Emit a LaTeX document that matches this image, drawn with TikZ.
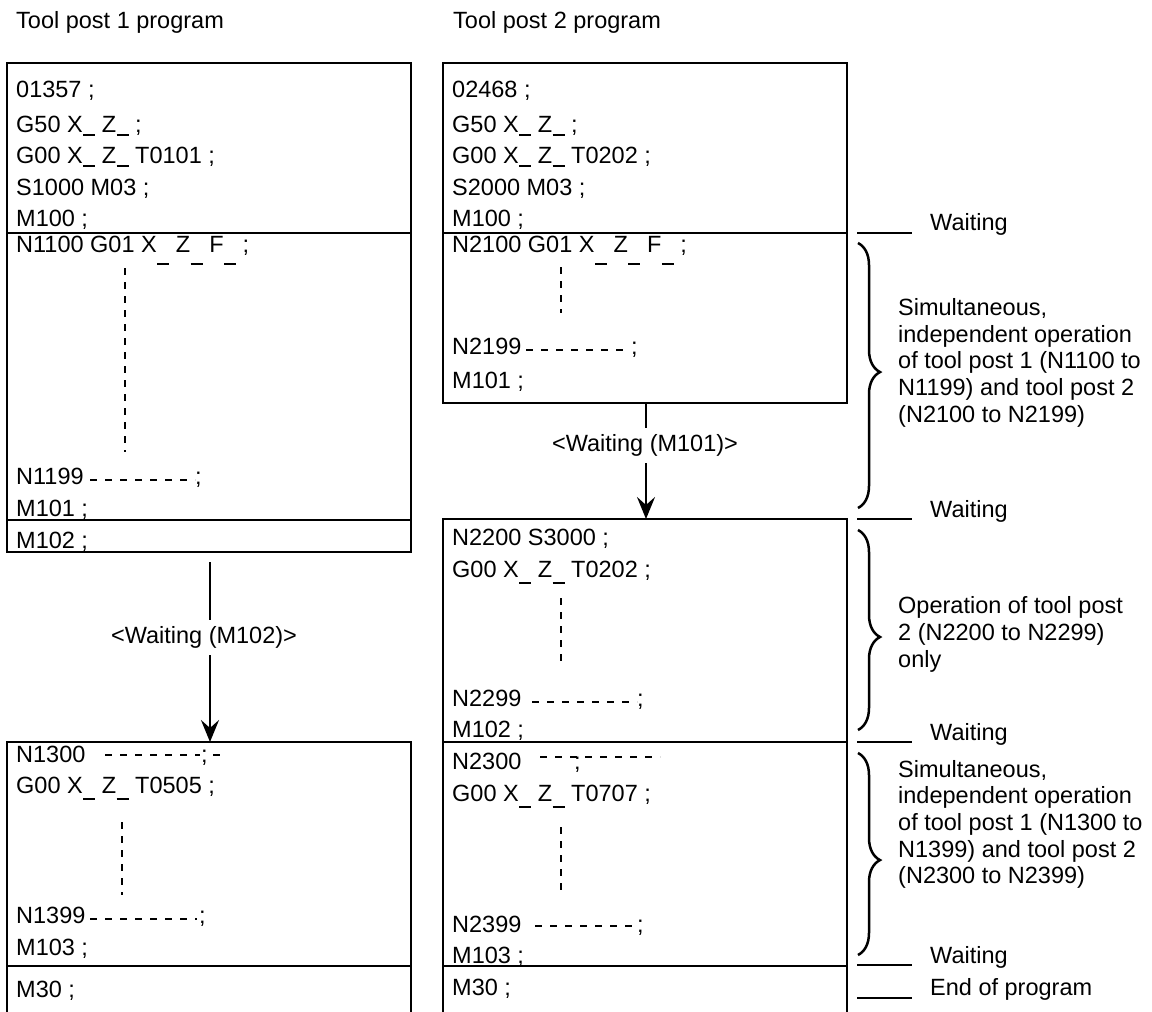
\documentclass[tikz,border=0pt]{standalone}
\usepackage{fontspec}
\setmainfont{Liberation Sans}
\usetikzlibrary{arrows.meta,decorations.pathreplacing}
\newcommand\blk[1]{\kern0.5pt\rule[-#1pt]{12pt}{2.4pt}}
\begin{document}
\begin{tikzpicture}[x=1pt,y=-1pt,
  txt/.style={anchor=base west, inner sep=0pt, font=\fontsize{23.5}{28}\selectfont},
  lbl/.style={inner sep=0pt, font=\fontsize{23.5}{28}\selectfont},
  box/.style={line width=2.5pt},
  dsh/.style={line width=2.4pt, dash pattern=on 7pt off 8pt},
  vdsh/.style={line width=2.6pt, dash pattern=on 7pt off 7pt},
  arr/.style={line width=2.5pt,-{Stealth[length=22pt,width=18pt,inset=8pt]}},
  tick/.style={line width=2.5pt},
  brc/.style={decorate, decoration={brace, amplitude=22pt, aspect=#1}, line width=2.5pt}]
\useasboundingbox (0,0) rectangle (1152,1012);

% headings
\node[txt] (h1) at (16,28) {Tool post 1 program};
\node[txt] (h2) at (453,28) {Tool post 2 program};

% ---------- left column boxes
\draw[box] (7,63) rectangle (411,552);
\draw[box] (7,233) -- (411,233);
\draw[box] (7,520) -- (411,520);
\draw[box] (7,1012) -- (7,742) -- (411,742) -- (411,1012);
\draw[box] (7,966) -- (411,966);

% left texts
\node[txt] (l1) at (16,97) {01357 ;};
\node[txt] (l2) at (16,132) {G50 X\blk{4} Z\blk{4} ;};
\node[txt] (l3) at (16,163) {G00 X\blk{4} Z\blk{4} T0101 ;};
\node[txt] (l4) at (16,195) {S1000 M03 ;};
\node[txt] (l5) at (16,226) {M100 ;};
\node[txt] (l6) at (16,252) {N1100 G01 X\blk{13} Z\blk{13} F\blk{13} ;};
\draw[vdsh] (125,268) -- (125,452);
\node[txt] (l7) at (16,484) {N1199};
\draw[dsh] (90,480) -- (195,480);
\node[txt] (l7s) at (195,484) {;};
\node[txt] (l8) at (16,516) {M101 ;};
\node[txt] (l9) at (16,548) {M102 ;};

\node[txt] (l10) at (16,762) {N1300};
\draw[dsh] (105,755) -- (200,755);
\node[txt] (l10s) at (201,762) {;};
\draw[dsh] (213,755) -- (220,755);
\node[txt] (l11) at (16,793) {G00 X\blk{7} Z\blk{7} T0505 ;};
\draw[vdsh] (122,822) -- (122,895);
\node[txt] (l12) at (16,923) {N1399};
\draw[dsh] (90,919) -- (197,919);
\node[txt] (l12s) at (199,923) {;};
\node[txt] (l13) at (16,955) {M103 ;};
\node[txt] (l14) at (16,997) {M30 ;};

% ---------- right column boxes
\draw[box] (443,63) rectangle (847,403);
\draw[box] (443,233) -- (847,233);
\draw[box] (443,1012) -- (443,519) -- (847,519) -- (847,1012);
\draw[box] (443,742) -- (847,742);
\draw[box] (443,966) -- (847,966);

% right texts
\node[txt] (r1) at (452,97) {02468 ;};
\node[txt] (r2) at (452,132) {G50 X\blk{4} Z\blk{4} ;};
\node[txt] (r3) at (452,163) {G00 X\blk{4} Z\blk{4} T0202 ;};
\node[txt] (r4) at (452,195) {S2000 M03 ;};
\node[txt] (r5) at (452,226) {M100 ;};
\node[txt] (r6) at (452,252) {N2100 G01 X\blk{13} Z\blk{13} F\blk{13} ;};
\draw[vdsh] (561,267) -- (561,313);
\node[txt] (r7) at (452,354) {N2199};
\draw[dsh] (526,350) -- (630,350);
\node[txt] (r7s) at (631,354) {;};
\node[txt] (r8) at (452,388) {M101 ;};

\node[txt] (r9) at (452,545) {N2200 S3000 ;};
\node[txt] (r10) at (452,577) {G00 X\blk{7} Z\blk{7} T0202 ;};
\draw[vdsh] (561,598) -- (561,668);
\node[txt] (r11) at (452,706) {N2299};
\draw[dsh] (532,702) -- (637,702);
\node[txt] (r11s) at (637,706) {;};
\node[txt] (r12) at (452,737) {M102 ;};

\node[txt] (r13) at (452,769) {N2300};
\draw[dsh] (540,757) -- (660,757);
\node[txt] (r13s) at (574,769) {;};
\node[txt] (r14) at (452,801) {G00 X\blk{7} Z\blk{7} T0707 ;};
\draw[vdsh] (561,827) -- (561,897);
\node[txt] (r15) at (452,932) {N2399};
\draw[dsh] (535,926) -- (637,926);
\node[txt] (r15s) at (637,932) {;};
\node[txt] (r16) at (452,963) {M103 ;};
\node[txt] (r17) at (452,995) {M30 ;};

% ---------- waiting arrows
\coordinate (b1bot) at (646,403);
\coordinate (a1a) at (646,428);
\coordinate (a1b) at (646,463);
\coordinate (b2top) at (646,519);
\node[lbl] (w101) at (645,445) {<Waiting (M101)>};
\draw[box] (b1bot) -- (a1a);
\draw[arr] (a1b) -- (b2top);

\coordinate (c1bot) at (210,562);
\coordinate (a2a) at (210,620);
\coordinate (a2b) at (210,655);
\coordinate (c2top) at (210,742);
\node[lbl] (w102) at (204,637) {<Waiting (M102)>};
\draw[box] (c1bot) -- (a2a);
\draw[arr] (a2b) -- (c2top);

% ---------- right annotations
\draw[tick] (857,233) -- (912,233);
\draw[tick] (857,519) -- (912,519);
\draw[tick] (857,742) -- (912,742);
\draw[tick] (857,965) -- (912,965);
\draw[tick] (857,998) -- (912,998);
\node[txt] (wt1) at (930,230) {Waiting};
\node[txt] (wt2) at (930,517) {Waiting};
\node[txt] (wt3) at (930,740) {Waiting};
\node[txt] (wt4) at (930,963) {Waiting};
\node[txt] (end) at (930,995) {End of program};

\draw[brc=0.487] (858,243) -- (858,508);
\draw[brc=0.535] (858,530) -- (858,730);
\draw[brc=0.53] (858,753) -- (858,955);

\node[txt] (d1a) at (898,315) {Simultaneous,};
\node[txt] (d1b) at (898,342) {independent operation};
\node[txt] (d1c) at (898,368) {of tool post 1 (N1100 to};
\node[txt] (d1d) at (898,395) {N1199) and tool post 2};
\node[txt] (d1e) at (898,422) {(N2100 to N2199)};

\node[txt] (d2a) at (898,613) {Operation of tool post};
\node[txt] (d2b) at (898,640) {2 (N2200 to N2299)};
\node[txt] (d2c) at (898,667) {only};

\node[txt] (d3a) at (898,777) {Simultaneous,};
\node[txt] (d3b) at (898,803) {independent operation};
\node[txt] (d3c) at (898,830) {of tool post 1 (N1300 to};
\node[txt] (d3d) at (898,857) {N1399) and tool post 2};
\node[txt] (d3e) at (898,883) {(N2300 to N2399)};
\end{tikzpicture}
\end{document}
